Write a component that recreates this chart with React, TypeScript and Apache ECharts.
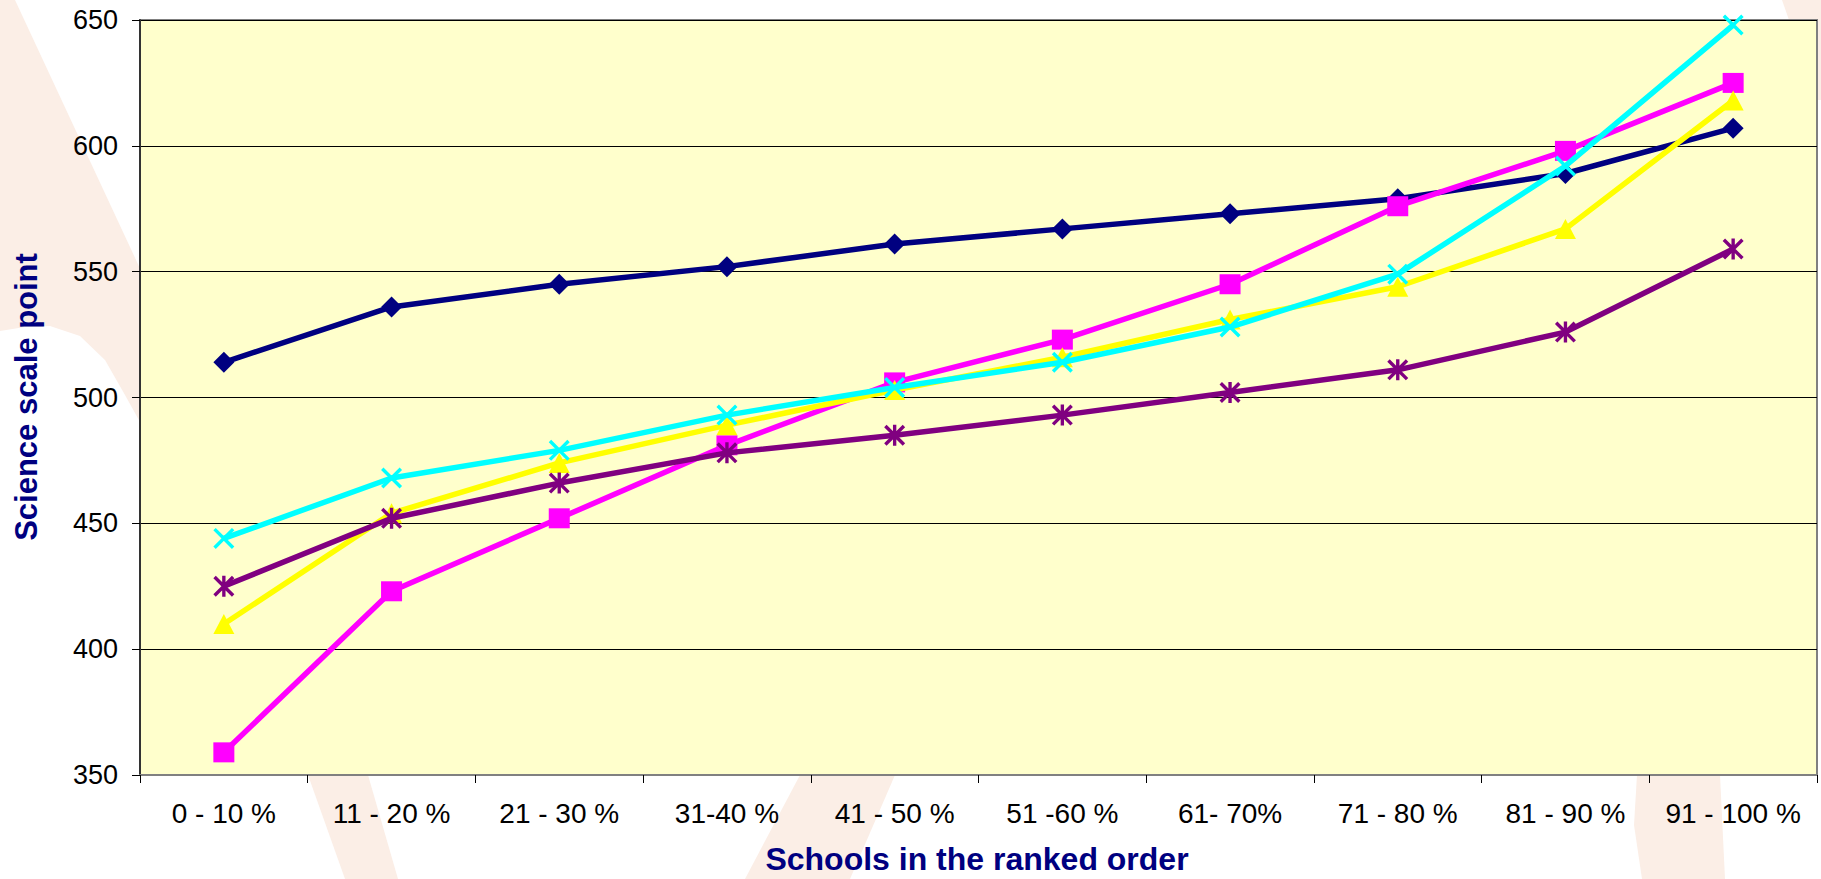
import React, { useEffect, useRef } from "react";
import * as echarts from "echarts";

const categories = [
  "0 - 10 %",
  "11 - 20 %",
  "21 - 30 %",
  "31-40 %",
  "41 - 50 %",
  "51 -60 %",
  "61- 70%",
  "71 - 80 %",
  "81 - 90 %",
  "91 - 100 %",
];

const navySeries = [514, 536, 545, 552, 561, 567, 573, 579, 589, 607];
const magentaSeries = [359, 423, 452, 481, 506, 523, 545, 576, 598, 625];
const yellowSeries = [410, 454, 474, 489, 503, 516, 531, 544, 567, 618];
const cyanSeries = [444, 468, 479, 493, 504, 514, 528, 549, 592, 648];
const purpleSeries = [425, 452, 466, 478, 485, 493, 502, 511, 526, 559];

const yTicks = { min: 350, max: 650, interval: 50 };

const FONT = 'Arial, "Liberation Sans", Helvetica, sans-serif';
const PEACH = "#FBEEE6";

const X_PATH =
  "path://M0,2.3 L2.3,0 L20,17.7 L17.7,20 Z M17.7,0 L20,2.3 L2.3,20 L0,17.7 Z";
const STAR_PATH =
  "path://M0,2.3 L2.3,0 L20,17.7 L17.7,20 Z M17.7,0 L20,2.3 L2.3,20 L0,17.7 Z M8.4,0 L11.6,0 L11.6,20 L8.4,20 Z";

export default function App() {
  const ref = useRef<HTMLDivElement | null>(null);

  useEffect(() => {
    if (!ref.current) return;
    const chart = echarts.init(ref.current, undefined, { renderer: "svg" });

    const mk = (
      name: string,
      data: number[],
      color: string,
      symbol: string,
      size: number | number[],
      z: number
    ) => ({
      name,
      type: "line",
      data,
      z,
      symbol,
      symbolSize: size,
      showAllSymbol: true,
      lineStyle: { color, width: 5.5 },
      itemStyle: { color, borderWidth: 0 },
      emphasis: { disabled: true },
    });

    const peach = (points: number[][]) => ({
      type: "polygon",
      z: -10,
      silent: true,
      shape: { points },
      style: { fill: PEACH },
    });

    chart.setOption({
      animation: false,
      backgroundColor: "#ffffff",
      grid: {
        left: 140,
        right: 4,
        top: 20,
        bottom: 104,
        containLabel: false,
        show: true,
        backgroundColor: "#FFFFCC",
        borderColor: "#808080",
        borderWidth: 2,
      },
      graphic: [
        peach([
          [0, 0],
          [15, 0],
          [150, 290],
          [150, 440],
          [125, 395],
          [105, 360],
          [80, 336],
          [50, 326],
          [25, 327],
          [0, 331],
        ]),
        peach([
          [308, 775],
          [368, 775],
          [398, 879],
          [345, 879],
        ]),
        peach([
          [800, 775],
          [895, 775],
          [850, 879],
          [745, 879],
        ]),
        peach([
          [1637, 775],
          [1720, 775],
          [1725, 879],
          [1642, 879],
          [1634, 825],
        ]),
        peach([
          [1782, 0],
          [1821, 0],
          [1821, 100],
          [1817, 100],
          [1817, 20],
          [1789, 20],
        ]),
        {
          type: "text",
          x: 26,
          y: 397,
          rotation: Math.PI / 2,
          z: 10,
          style: {
            text: "Science scale point",
            fontSize: 31,
            fontWeight: "bold",
            fontFamily: FONT,
            fill: "#000080",
            align: "center",
            verticalAlign: "middle",
          },
        },
        {
          type: "text",
          x: 977,
          y: 859,
          z: 10,
          style: {
            text: "Schools in the ranked order",
            fontSize: 32,
            lineHeight: 30,
            fontWeight: "bold",
            fontFamily: FONT,
            fill: "#000080",
            align: "center",
            verticalAlign: "middle",
          },
        },
      ],
      xAxis: {
        type: "category",
        data: categories,
        boundaryGap: true,
        axisLine: { show: true, lineStyle: { color: "#808080", width: 2 } },
        axisTick: {
          show: true,
          length: 8,
          alignWithLabel: false,
          interval: 0,
          lineStyle: { color: "#000", width: 1 },
        },
        axisLabel: {
          interval: 0,
          fontSize: 28,
          fontFamily: FONT,
          color: "#000",
          margin: 38,
          verticalAlign: "middle",
        },
        splitLine: { show: false },
      },
      yAxis: {
        type: "value",
        min: yTicks.min,
        max: yTicks.max,
        interval: yTicks.interval,
        axisLine: { show: true, lineStyle: { color: "#333", width: 2 } },
        axisTick: { show: true, length: 8, lineStyle: { color: "#000", width: 1 } },
        axisLabel: {
          fontSize: 27,
          fontFamily: FONT,
          color: "#000",
          margin: 22,
        },
        splitLine: { show: true, lineStyle: { color: "#000", width: 1 } },
      },
      series: [
        mk("A", navySeries, "#000080", "diamond", [21, 21], 2),
        mk("B", magentaSeries, "#FF00FF", "rect", [21, 20], 3),
        mk("C", yellowSeries, "#FFFF00", "triangle", [21, 20], 4),
        mk("D", cyanSeries, "#00FFFF", X_PATH, [21, 21], 5),
        mk("E", purpleSeries, "#800080", STAR_PATH, [21, 21], 6),
      ],
    });

    return () => chart.dispose();
  }, []);

  return (
    <div
      ref={ref}
      style={{ position: "fixed", left: 0, top: 0, width: 1821, height: 879 }}
    />
  );
}
